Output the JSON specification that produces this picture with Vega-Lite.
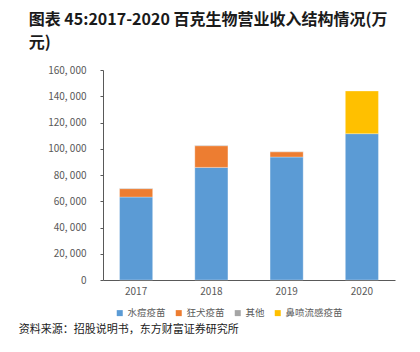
{
  "$schema": "https://vega.github.io/schema/vega-lite/v6.json",
  "padding": {"left": 18, "top": 12, "right": 10, "bottom": 4},
  "title": {
    "text": ["图表 45:2017-2020 百克生物营业收入结构情况(万", "元)"],
    "anchor": "start",
    "font": "Noto Sans CJK SC",
    "fontSize": 16,
    "fontWeight": "bold",
    "color": "#1a1a1a",
    "lineHeight": 23,
    "offset": 14,
    "dx": 10
  },
  "config": {
    "view": {"stroke": null},
    "font": "Noto Sans CJK SC"
  },
  "data": {
    "values": [
      {"year": "2017", "type": "水痘疫苗", "order": 1, "value": 63200},
      {"year": "2017", "type": "狂犬疫苗", "order": 2, "value": 6400},
      {"year": "2017", "type": "其他", "order": 3, "value": 300},
      {"year": "2018", "type": "水痘疫苗", "order": 1, "value": 85800},
      {"year": "2018", "type": "狂犬疫苗", "order": 2, "value": 16500},
      {"year": "2018", "type": "其他", "order": 3, "value": 300},
      {"year": "2019", "type": "水痘疫苗", "order": 1, "value": 93700},
      {"year": "2019", "type": "狂犬疫苗", "order": 2, "value": 4000},
      {"year": "2019", "type": "其他", "order": 3, "value": 300},
      {"year": "2020", "type": "水痘疫苗", "order": 1, "value": 111500},
      {"year": "2020", "type": "鼻喷流感疫苗", "order": 4, "value": 32500}
    ]
  },
  "vconcat": [
    {
      "width": 292,
      "height": 210,
      "title": {
        "text": "资料来源：招股说明书，东方财富证券研究所",
        "orient": "bottom",
        "anchor": "start",
        "fontSize": 11,
        "fontWeight": "normal",
        "color": "#1a1a1a",
        "dx": -29,
        "offset": 28
      },
      "mark": {"type": "bar", "stroke": "white", "strokeWidth": 0.5, "strokeOpacity": 0.6},
      "encoding": {
        "x": {
          "field": "year",
          "type": "ordinal",
          "scale": {"paddingInner": 0.56, "paddingOuter": 0.22},
          "axis": {
            "title": null,
            "labelAngle": 0,
            "ticks": false,
            "domainColor": "#595959",
            "labelColor": "#595959",
            "labelFontSize": 10,
            "labelPadding": 6
          }
        },
        "y": {
          "field": "value",
          "type": "quantitative",
          "aggregate": "sum",
          "stack": "zero",
          "scale": {"domain": [0, 160000]},
          "axis": {
            "title": null,
            "values": [0, 20000, 40000, 60000, 80000, 100000, 120000, 140000, 160000],
            "format": ",.0f",
            "labelExpr": "replace(datum.label, ',', ', ')",
            "labelOverlap": false,
            "grid": false,
            "domainColor": "#595959",
            "tickColor": "#595959",
            "tickSize": 3,
            "labelColor": "#595959",
            "labelFontSize": 10,
            "labelPadding": 14
          }
        },
        "color": {
          "field": "type",
          "type": "nominal",
          "scale": {
            "domain": ["水痘疫苗", "狂犬疫苗", "其他", "鼻喷流感疫苗"],
            "range": ["#5B9BD5", "#ED7D31", "#A5A5A5", "#FFC000"]
          },
          "legend": {
            "title": null,
            "orient": "none",
            "legendX": 12,
            "legendY": 238,
            "direction": "horizontal",
            "symbolType": "square",
            "symbolSize": 36,
            "symbolStrokeWidth": 0,
            "labelFontSize": 9.5,
            "labelOffset": 3,
            "labelColor": "#595959",
            "columnPadding": 8
          }
        },
        "order": {"field": "order", "type": "quantitative"}
      }
    }
  ]
}
